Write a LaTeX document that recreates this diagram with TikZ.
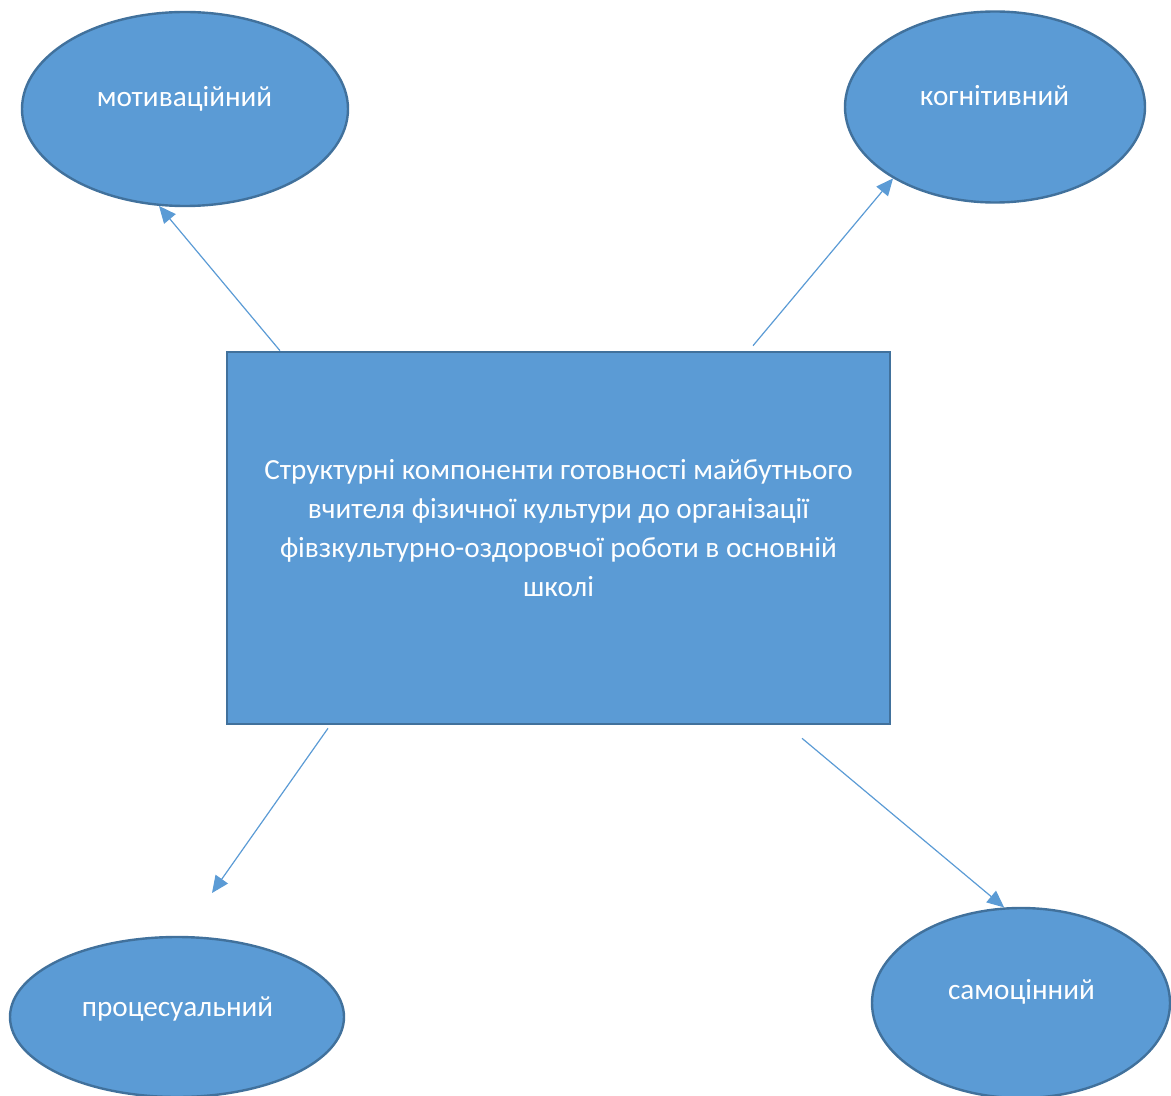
\documentclass[tikz,border=0pt]{standalone}
\usepackage{fontspec}
\setmainfont{Carlito}
\usetikzlibrary{shapes,arrows.meta,positioning,calc}
\definecolor{fillblue}{HTML}{5B9BD5}
\definecolor{edgeblue}{HTML}{41719C}
\tikzset{
    comp/.style={ellipse, draw=edgeblue, fill=fillblue, line width=1.2pt, inner sep=0pt},
    mainbox/.style={rectangle, draw=edgeblue, fill=fillblue, line width=1.3pt, inner sep=0pt,
        minimum width=331.5pt, minimum height=186pt},
    lbl/.style={text=white, font=\fontsize{14.6}{19.5}\selectfont, align=center},
    link/.style={-{Triangle[length=8.5pt,width=7.5pt]}, draw=fillblue, line width=0.6pt}
}

\begin{document}
\begin{tikzpicture}[x=0.5pt,y=-0.5pt]
    \useasboundingbox (0,0) rectangle (1171,1096);

    % Central box
    \node[mainbox] (box) at (558.5,538) {};
    \node[lbl] (box-t) at (558.5,528) {Структурні компоненти готовності майбутнього\\
        вчителя фізичної культури до організації\\
        фівзкультурно-оздоровчої роботи в основній\\
        школі};

    % Components
    \node[comp, minimum width=163pt, minimum height=97pt] (motiv) at (185,109) {};
    \node[lbl] (motiv-t) at (184.5,99) {мотиваційний};
    \node[comp, minimum width=150pt, minimum height=95.5pt] (cogn) at (995,107) {};
    \node[lbl] (cogn-t) at (994.5,96) {когнітивний};
    \node[comp, minimum width=167pt, minimum height=80pt] (proc) at (177,1017) {};
    \node[lbl] (proc-t) at (177.5,1009) {процесуальний};
    \node[comp, minimum width=149pt, minimum height=95pt] (self) at (1021,1003) {};
    \node[lbl] (self-t) at (1021.5,992) {самоцінний};
    \coordinate (proc-in) at (212,893);

    % Arrows
    \draw[link] ($(box.north)+(-278.5,0)$) -- (motiv.255.5);
    \draw[link] ($(box.north)+(194.5,-5)$) -- (cogn.215.2);
    \draw[link] ($(box.south)+(-230.5,3)$) -- (proc-in);
    \draw[link] ($(box.south)+(243.5,13)$) -- (self.100.4);
\end{tikzpicture}
\end{document}
